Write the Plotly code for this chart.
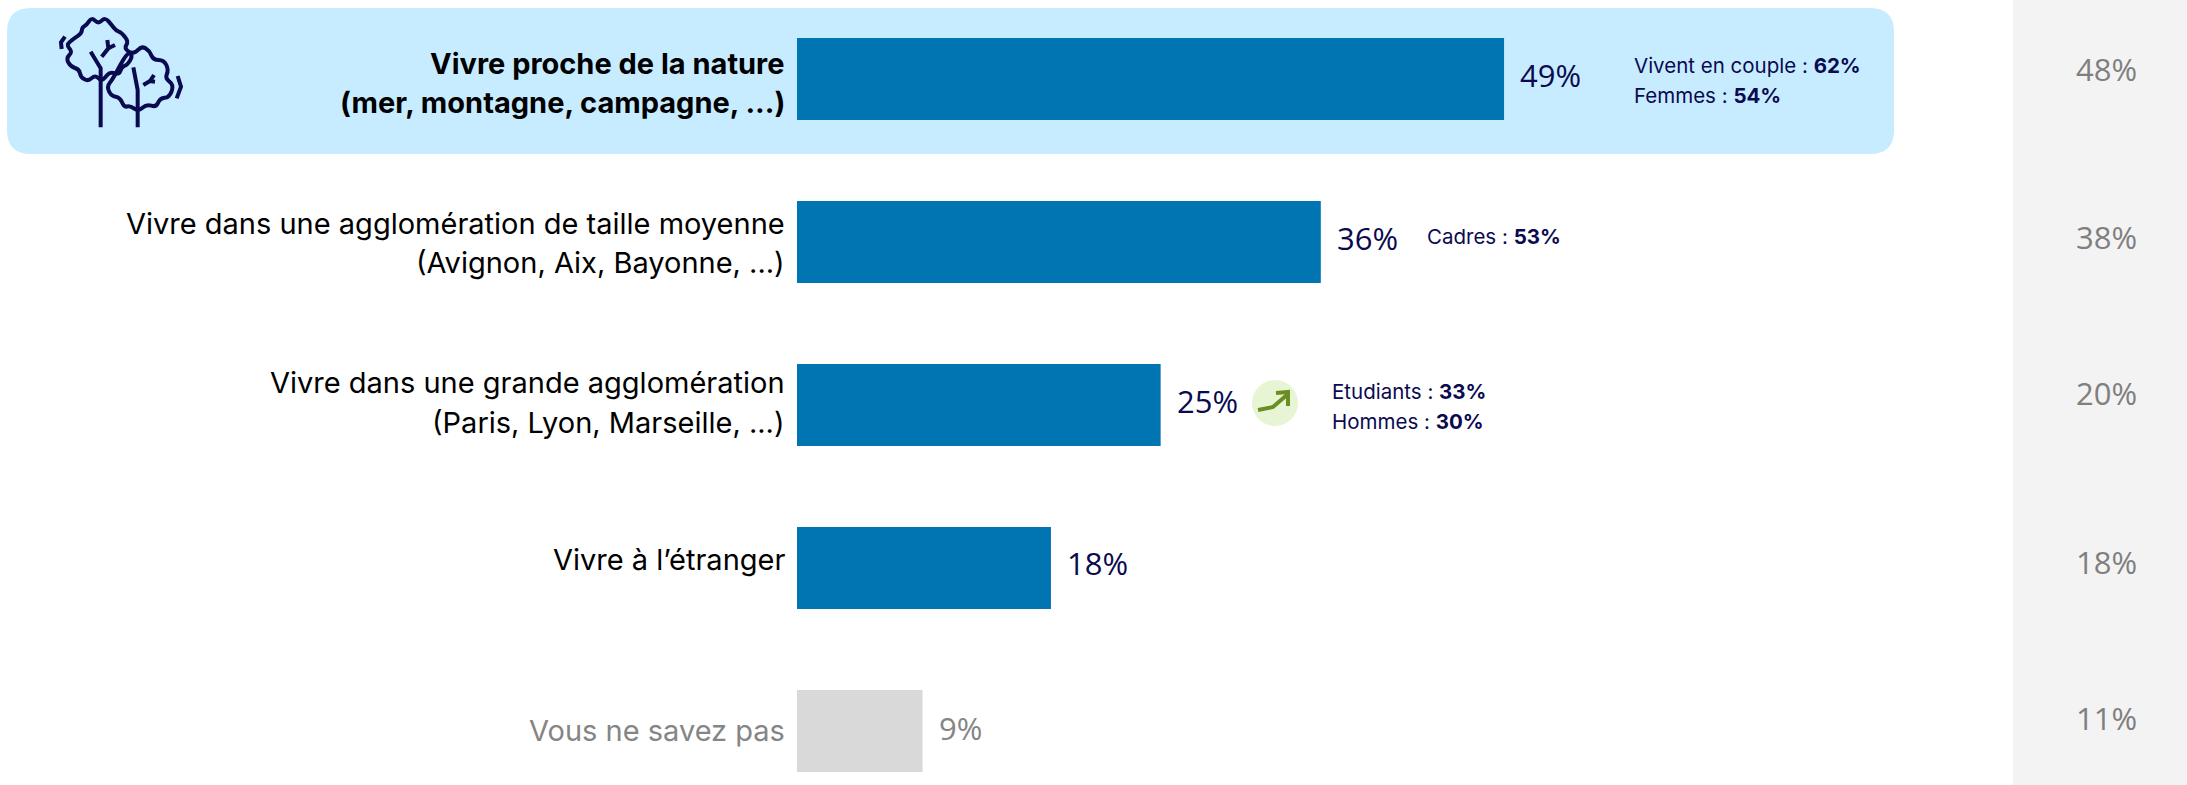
import plotly.graph_objects as go

W, H = 2187, 785
categories = ["nature", "moyenne", "grande", "etranger", "nsp"]
values = [49.0, 36.3, 25.2, 17.6, 8.7]
value_labels = ["49%", "36%", "25%", "18%", "9%"]
previous_labels = ["48%", "38%", "20%", "18%", "11%"]
label_lines = [
    ["Vivre proche de la nature", "(mer, montagne, campagne, ...)"],
    ["Vivre dans une agglomération de taille moyenne", "(Avignon, Aix, Bayonne, ...)"],
    ["Vivre dans une grande agglomération", "(Paris, Lyon, Marseille, ...)"],
    ["Vivre à l’étranger"],
    ["Vous ne savez pas"],
]
details = [
    ["Vivent en couple : <b>62%</b>", "Femmes : <b>54%</b>"],
    ["Cadres : <b>53%</b>"],
    ["Etudiants : <b>33%</b>", "Hommes : <b>30%</b>"],
    [],
    [],
]
FONT = "Inter"
NAVY = "#0A0A50"
GREY = "#858585"
bar_colors = ["#0075B2"] * 4 + ["#D9D9D9"]
PX = 14.43
X0, Y0, STEP = 797, 79, 163

def px(x): return x / W
def py(y): return 1 - y / H
def path(points):
    return "M" + " L".join(f"{px(a):.5f},{py(b):.5f}" for a, b in points)
def smooth(points):
    n = len(points)
    mid = lambda a, b: ((a[0] + b[0]) / 2, (a[1] + b[1]) / 2)
    start = mid(points[-1], points[0])
    s = f"M{px(start[0]):.5f},{py(start[1]):.5f}"
    for i in range(n):
        c = points[i]
        e = mid(points[i], points[(i + 1) % n])
        s += f" Q{px(c[0]):.5f},{py(c[1]):.5f} {px(e[0]):.5f},{py(e[1]):.5f}"
    return s + " Z"
def rrect(x0, y0, x1, y1, r):
    k = r
    return (f"M{px(x0+k):.5f},{py(y0):.5f} L{px(x1-k):.5f},{py(y0):.5f} "
            f"Q{px(x1):.5f},{py(y0):.5f} {px(x1):.5f},{py(y0+k):.5f} "
            f"L{px(x1):.5f},{py(y1-k):.5f} Q{px(x1):.5f},{py(y1):.5f} {px(x1-k):.5f},{py(y1):.5f} "
            f"L{px(x0+k):.5f},{py(y1):.5f} Q{px(x0):.5f},{py(y1):.5f} {px(x0):.5f},{py(y1-k):.5f} "
            f"L{px(x0):.5f},{py(y0+k):.5f} Q{px(x0):.5f},{py(y0):.5f} {px(x0+k):.5f},{py(y0):.5f} Z")

fig = go.Figure(go.Bar(
    y=categories, x=values, orientation="h",
    marker=dict(color=bar_colors, line_width=0), width=82 / STEP,
    hoverinfo="skip",
))

shapes = []
shapes.append(dict(type="path", xref="paper", yref="paper", path=rrect(7, 8, 1894, 154, 24),
                   fillcolor="#C7ECFF", line_width=0, layer="below"))
shapes.append(dict(type="rect", xref="paper", yref="paper", x0=px(2013), x1=1, y0=0, y1=1,
                   fillcolor="#F3F3F3", line_width=0, layer="below"))
shapes.append(dict(type="circle", xref="paper", yref="paper", x0=px(1252), x1=px(1298),
                   y0=py(426), y1=py(380), fillcolor="#E8F5D5", line_width=0, layer="below"))

# arrow
for pts in ([(1258, 410), (1273, 407), (1288, 394)], [(1276, 393), (1288, 392), (1288, 406)]):
    shapes.append(dict(type="path", xref="paper", yref="paper", path=path(pts),
                       line=dict(color="#6B8E23", width=4)))

# icon (outlined trees)
def iz(pts):
    return [(50 + a / 3, 10 + b / 3) for a, b in pts]
crown1 = iz([(110, 45), (125, 22), (145, 42), (165, 22), (185, 45), (198, 62), (215, 68), (236, 95), (222, 115), (250, 135), (232, 165),
             (215, 170), (208, 194), (180, 185), (165, 204), (153, 212), (135, 195), (115, 214), (92, 202), (88, 178), (62, 170), (48, 145),
             (68, 125), (48, 105), (72, 85), (95, 70), (96, 52)])
crown2 = iz([(232, 125), (255, 130), (275, 108), (298, 122), (310, 150), (342, 150), (356, 180), (345, 205), (372, 225), (358, 262),
             (330, 265), (318, 292), (290, 282), (265, 304), (240, 287), (222, 292), (210, 262), (184, 258), (170, 230), (190, 205)])
for crown in (crown1, crown2):
    shapes.append(dict(type="path", xref="paper", yref="paper", path=smooth(crown),
                       line=dict(color=NAVY, width=4)))
strokes = [[(152, 352), (152, 175), (122, 125)],
           [(263, 352), (263, 240), (250, 172)],
           [(172, 90), (175, 115), (155, 140)], [(175, 115), (195, 105)],
           [(280, 225), (300, 213), (312, 195)], [(298, 213), (315, 215)],
           [(45, 80), (33, 97), (35, 117)],
           [(383, 198), (393, 230), (380, 265)]]
for pts in strokes:
    shapes.append(dict(type="path", xref="paper", yref="paper", path=path(iz(pts)),
                       line=dict(color=NAVY, width=4)))

ann = []
label_y = [(63, 102), (223, 262), (382, 422), (559,), (730,)]
label_colors = ["#000000"] * 4 + [GREY]
for i, lines in enumerate(label_lines):
    for line, y in zip(lines, label_y[i]):
        text = f"<b>{line}</b>" if i == 0 else line
        ann.append(dict(x=0, y=categories[i], xref="x", yref="y", xanchor="right", yanchor="middle",
                        xshift=-10, yshift=(Y0 + STEP * i) - y, text=text, showarrow=False,
                        font=dict(family=FONT, size=29, color=label_colors[i])))

val_y = [75, 238, 401, 563, 728]
for i, t in enumerate(value_labels):
    ann.append(dict(x=values[i], y=categories[i], xref="x", yref="y", xanchor="left", yanchor="middle",
                    xshift=14, yshift=(Y0 + STEP * i) - val_y[i], text=t, showarrow=False,
                    font=dict(family="Open Sans", weight=400, size=31, color=GREY if i == 4 else NAVY)))

prev_y = [69, 237, 393, 562, 718]
for i, t in enumerate(previous_labels):
    ann.append(dict(x=px(2106), y=py(prev_y[i]), xref="paper", yref="paper", xanchor="center", yanchor="middle",
                    text=t, showarrow=False,
                    font=dict(family="Open Sans", weight=400, size=31, color="#7F7F7F")))

detail_x = [1632, 1425, 1330, 0, 0]
detail_y = [(66, 96), (237,), (391, 421), (), ()]
for i, lines in enumerate(details):
    for line, y in zip(lines, detail_y[i]):
        ann.append(dict(x=px(detail_x[i]), y=py(y), xref="paper", yref="paper", xanchor="left", yanchor="middle",
                        text=line, showarrow=False,
                        font=dict(family=FONT, size=20.5, color=NAVY)))

fig.update_layout(
    width=W, height=H, margin=dict(l=0, r=0, t=0, b=0), autosize=False,
    paper_bgcolor="white", plot_bgcolor="rgba(0,0,0,0)", showlegend=False,
    xaxis=dict(range=[-X0 / PX, (W - X0) / PX], visible=False, fixedrange=True),
    yaxis=dict(range=[(H - Y0) / STEP, -Y0 / STEP], visible=False, fixedrange=True,
               type="category", categoryorder="array", categoryarray=categories),
    shapes=shapes, annotations=ann,
)
fig.write_html("out.html", config={"displayModeBar": False},
               post_script="document.body.style.margin='0';document.body.style.overflow='hidden';")
